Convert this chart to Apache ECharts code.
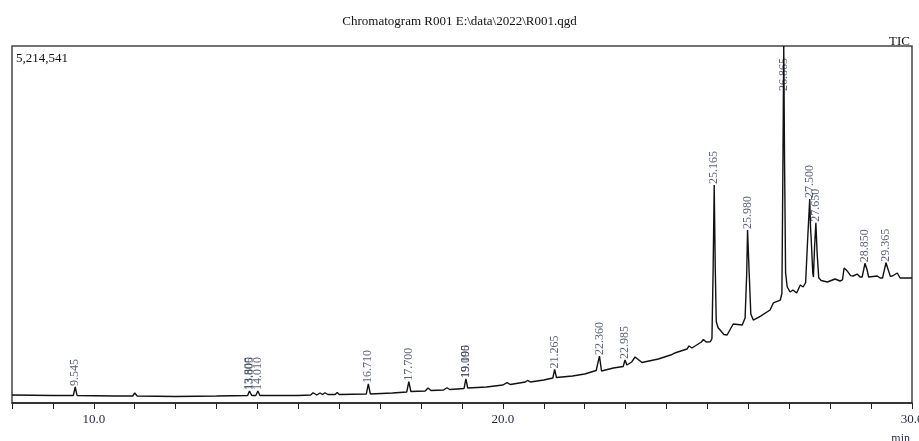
<!DOCTYPE html>
<html>
<head>
<meta charset="utf-8">
<script src="https://cdn.jsdelivr.net/npm/echarts@6/dist/echarts.min.js"></script>
<style>
html,body{margin:0;padding:0;background:#fff;}
#chart{width:919px;height:441px;}
</style>
</head>
<body>
<div id="chart"></div>
<script>
// Retention time (min)
var times = [
  8.00, 9.00, 9.50, 9.545, 9.59, 10.50, 10.95, 11.00, 11.06, 12.00, 13.00,
  13.76, 13.805, 13.86, 13.96, 14.010, 14.06, 15.00, 15.30, 15.36, 15.45, 15.53,
  15.59, 15.65, 15.72, 15.90, 15.95, 16.00, 16.66, 16.710, 16.76, 17.30, 17.65,
  17.700, 17.75, 18.10, 18.17, 18.24, 18.55, 18.63, 18.70, 19.05, 19.095, 19.14,
  19.60, 20.00, 20.10, 20.18, 20.55, 20.60, 20.67, 21.00, 21.22, 21.265, 21.31,
  21.70, 22.00, 22.28, 22.360, 22.41, 22.70, 22.94, 22.985, 23.03, 23.15, 23.23,
  23.40, 23.80, 24.10, 24.20, 24.50, 24.55, 24.62, 24.85, 24.90, 24.97, 25.07,
  25.11, 25.14, 25.165, 25.19, 25.215, 25.26, 25.31, 25.40, 25.48, 25.63, 25.85,
  25.92, 25.96, 25.980, 26.02, 26.06, 26.12, 26.30, 26.53, 26.61, 26.78, 26.82,
  26.845, 26.865, 26.885, 26.91, 26.95, 27.02, 27.09, 27.18, 27.27, 27.34, 27.40,
  27.45, 27.500, 27.52, 27.535, 27.575, 27.59, 27.62, 27.650, 27.68, 27.72, 27.78,
  27.93, 28.12, 28.24, 28.30, 28.34, 28.40, 28.44, 28.50, 28.56, 28.66, 28.73,
  28.78, 28.82, 28.850, 28.90, 28.94, 29.15, 29.22, 29.28, 29.33, 29.365, 29.41,
  29.47, 29.52, 29.64, 29.71, 30.00
];
// Total ion current (counts)
var intensity = [
  117000, 110000, 110000, 234000, 110000, 102000, 102000, 146000, 102000, 95000, 102000,
  110000, 175000, 110000, 110000, 175000, 110000, 110000, 117000, 150000, 117000, 146000,
  124000, 150000, 124000, 124000, 153000, 124000, 131000, 278000, 131000, 146000, 161000,
  311000, 168000, 175000, 219000, 183000, 190000, 223000, 197000, 212000, 351000, 219000,
  234000, 263000, 299000, 270000, 307000, 329000, 307000, 336000, 365000, 489000, 372000,
  394000, 424000, 475000, 686000, 467000, 511000, 533000, 628000, 555000, 599000, 672000,
  592000, 643000, 701000, 730000, 789000, 833000, 803000, 891000, 927000, 891000, 895000,
  941000, 2000000, 3184000, 2000000, 1190000, 1100000, 1066000, 1000000, 993000, 1154000, 1139000,
  1241000, 1900000, 2527000, 1900000, 1300000, 1212000, 1270000, 1358000, 1461000, 1504000, 1600000,
  3500000, 5214541, 3500000, 1900000, 1694000, 1621000, 1650000, 1607000, 1724000, 1694000, 1760000,
  2400000, 2980000, 2556000, 2410000, 1900000, 1840000, 2300000, 2634000, 2200000, 1830000, 1790000,
  1767000, 1811000, 1782000, 1797000, 1972000, 1940000, 1957000, 1860000, 1855000, 1884000, 1840000,
  1840000, 1950000, 2040000, 1950000, 1840000, 1855000, 1826000, 1826000, 1960000, 2049000, 1960000,
  1850000, 1855000, 1899000, 1826000, 1826000
];
// Labelled peaks
var peakTimes = [9.545, 13.800, 13.805, 14.010, 16.710, 17.700, 19.095, 19.100, 21.265, 22.360, 22.985, 25.165, 25.980, 26.865, 27.500, 27.650, 28.850, 29.365];
var peakValues = [234000, 175000, 175000, 175000, 278000, 311000, 351000, 351000, 489000, 686000, 628000, 3184000, 2527000, 5214541, 2980000, 2634000, 2040000, 2049000];
var peakLabels = ['9.545', '13.800', '13.805', '14.010', '16.710', '17.700', '19.095', '19.100', '21.265', '22.360', '22.985', '25.165', '25.980', '26.865', '27.500', '27.650', '28.850', '29.365'];
var xLabels = [10, 20, 30];
var yMax = 5214541;

var chart = echarts.init(document.getElementById('chart'), null, {renderer: 'canvas'});
var serif = '"Liberation Serif", "DejaVu Serif", serif';
var labelColor = '#2e3a55';

var lineData = times.map(function (t, i) { return [t, intensity[i]]; });
var peakData = peakTimes.map(function (t, i) {
  var item = {value: [t, peakValues[i]], name: peakLabels[i]};
  if (peakValues[i] >= yMax * 0.95) {
    item.label = {position: 'bottom', align: 'right', distance: 12};
  }
  return item;
});

chart.setOption({
  animation: false,
  backgroundColor: '#ffffff',
  title: [
    {text: 'Chromatogram R001 E:\\data\\2022\\R001.qgd', left: 'center', top: 10,
     textStyle: {fontFamily: serif, fontSize: 13, fontWeight: 'normal', color: '#111'}},
    {text: 'TIC', right: 4, top: 30,
     textStyle: {fontFamily: serif, fontSize: 13, fontWeight: 'normal', color: '#111'}},
    {text: yMax.toLocaleString('en-US'), left: 11, top: 47,
     textStyle: {fontFamily: serif, fontSize: 13, fontWeight: 'normal', color: '#111'}},
    {text: 'min', right: 4, top: 428,
     textStyle: {fontFamily: serif, fontSize: 12, fontWeight: 'normal', color: '#1f2340'}}
  ],
  grid: {left: 12, right: 7, top: 46, bottom: 38, containLabel: false, outerBoundsMode: 'none',
         show: true, borderColor: '#444', borderWidth: 1.5, backgroundColor: 'transparent'},
  xAxis: {
    type: 'value', min: 8, max: 30, interval: 1,
    axisLine: {lineStyle: {color: '#222', width: 1.5}},
    axisTick: {show: true, length: 6, lineStyle: {color: '#222'}},
    splitLine: {show: false},
    axisLabel: {
      fontFamily: serif, fontSize: 13, color: '#1f2340', margin: 10, showMaxLabel: true, hideOverlap: false,
      formatter: function (v) { return xLabels.indexOf(v) >= 0 ? v.toFixed(1) : ''; }
    }
  },
  yAxis: {
    type: 'value', min: 0, max: yMax, show: false, splitLine: {show: false}
  },
  series: [
    {
      type: 'line', data: lineData, showSymbol: false, smooth: false,
      lineStyle: {color: '#111', width: 1.4}, silent: true, clip: true
    },
    {
      type: 'scatter', data: peakData, symbolSize: 0, silent: true,
      label: {
        show: true, position: 'top', rotate: 90, align: 'left', verticalAlign: 'middle', distance: 1,
        formatter: function (p) { return p.name; },
        fontFamily: serif, fontSize: 12, color: labelColor
      }
    }
  ]
});
</script>
</body>
</html>
